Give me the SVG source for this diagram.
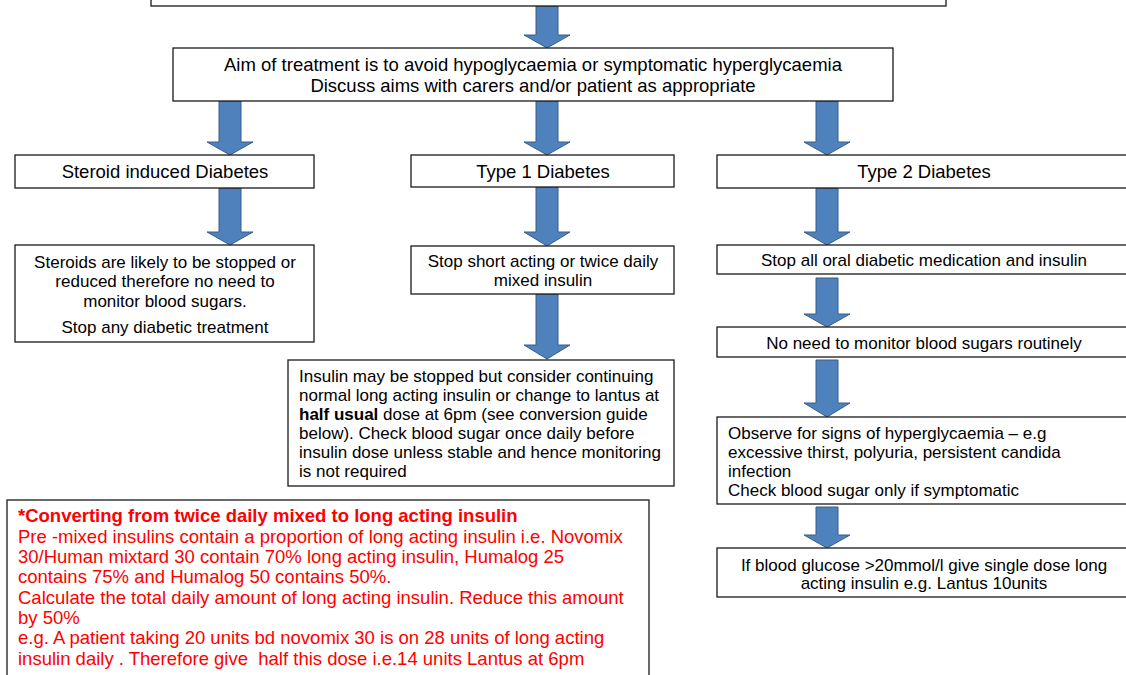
<svg xmlns="http://www.w3.org/2000/svg" width="1126" height="675" viewBox="0 0 1126 675">
  <style>
    .box { fill: #ffffff; stroke: #1a1a1a; stroke-width: 1.3; }
    .arrow { fill: #4F81BD; stroke: #385D8A; stroke-width: 1; }
    .t { font-family: "Liberation Sans", Arial, sans-serif; font-size: 17px; fill: #000; }
    .h { font-family: "Liberation Sans", Arial, sans-serif; font-size: 18.5px; fill: #000; }
    .c { text-anchor: middle; }
    .red { font-family: "Liberation Sans", Arial, sans-serif; font-size: 18.5px; fill: #FF0000; }
  </style>

  <rect width="1126" height="675" fill="#ffffff"/>

  <!-- connectors: downward block arrows -->
  <g id="connectors">
    <polygon class="arrow" points="536,6 558,6 558,35 570,35 547,48 524,35 536,35"/>
    <polygon class="arrow" points="219,101 241,101 241,142 253,142 230,155 207,142 219,142"/>
    <polygon class="arrow" points="536,101 558,101 558,142 570,142 547,155 524,142 536,142"/>
    <polygon class="arrow" points="816,101 838,101 838,142 850,142 827,155 804,142 816,142"/>
    <polygon class="arrow" points="219,188 241,188 241,232 253,232 230,245 207,232 219,232"/>
    <polygon class="arrow" points="536,187 558,187 558,232 570,232 547,246 524,232 536,232"/>
    <polygon class="arrow" points="816,188 838,188 838,232 850,232 827,245 804,232 816,232"/>
    <polygon class="arrow" points="536,294 558,294 558,345 570,345 547,359 524,345 536,345"/>
    <polygon class="arrow" points="816,278 838,278 838,314 850,314 827,327 804,314 816,314"/>
    <polygon class="arrow" points="816,360 838,360 838,403 850,403 827,417 804,403 816,403"/>
    <polygon class="arrow" points="816,507 838,507 838,535 850,535 827,548 804,535 816,535"/>
  </g>

  <g id="top-box">
    <rect class="box" x="151" y="-10" width="795" height="16"/>
  </g>

  <g id="aim">
    <rect class="box" x="173" y="48" width="720" height="53"/>
    <text class="h c" x="533" y="71" font-size="19.2">Aim of treatment is to avoid hypoglycaemia or symptomatic hyperglycaemia</text>
    <text class="h c" x="533" y="92" font-size="19.2">Discuss aims with carers and/or patient as appropriate</text>
  </g>

  <g id="steroid-induced">
    <rect class="box" x="15" y="155" width="299" height="33"/>
    <text class="h c" x="165" y="178">Steroid induced Diabetes</text>
  </g>

  <g id="type1">
    <rect class="box" x="411" y="155" width="263" height="32"/>
    <text class="h c" x="543" y="178">Type 1 Diabetes</text>
  </g>

  <g id="type2">
    <rect class="box" x="717" y="155" width="420" height="33"/>
    <text class="h c" x="924" y="178">Type 2 Diabetes</text>
  </g>

  <g id="steroid-advice">
    <rect class="box" x="15" y="245" width="299" height="97"/>
    <text class="t c" x="165" y="268">Steroids are likely to be stopped or</text>
    <text class="t c" x="165" y="287">reduced therefore no need to</text>
    <text class="t c" x="165" y="307">monitor blood sugars.</text>
    <text class="t c" x="165" y="333">Stop any diabetic treatment</text>
  </g>

  <g id="type1-stop">
    <rect class="box" x="411" y="246" width="263" height="48"/>
    <text class="t c" x="543" y="267">Stop short acting or twice daily</text>
    <text class="t c" x="543" y="286">mixed insulin</text>
  </g>

  <g id="type1-insulin">
    <rect class="box" x="288" y="360" width="386" height="126"/>
    <text class="t" x="299" y="382">Insulin may be stopped but consider continuing</text>
    <text class="t" x="299" y="401">normal long acting insulin or change to lantus at</text>
    <text class="t" x="299" y="420"><tspan font-weight="bold">half usual</tspan> dose at 6pm (see conversion guide</text>
    <text class="t" x="299" y="439">below). Check blood sugar once daily before</text>
    <text class="t" x="299" y="458">insulin dose unless stable and hence monitoring</text>
    <text class="t" x="299" y="477">is not required</text>
  </g>

  <g id="conversion">
    <rect class="box" x="7" y="500" width="642" height="190"/>
    <text class="red" x="18" y="522" font-weight="bold">*Converting from twice daily mixed to long acting insulin</text>
    <text class="red" x="18" y="543">Pre -mixed insulins contain a proportion of long acting insulin i.e. Novomix</text>
    <text class="red" x="18" y="563">30/Human mixtard 30 contain 70% long acting insulin, Humalog 25</text>
    <text class="red" x="18" y="583">contains 75% and Humalog 50 contains 50%.</text>
    <text class="red" x="18" y="604">Calculate the total daily amount of long acting insulin. Reduce this amount</text>
    <text class="red" x="18" y="624">by 50%</text>
    <text class="red" x="18" y="644">e.g. A patient taking 20 units bd novomix 30 is on 28 units of long acting</text>
    <text class="red" x="18" y="665" xml:space="preserve">insulin daily . Therefore give  half this dose i.e.14 units Lantus at 6pm</text>
  </g>

  <g id="type2-stop">
    <rect class="box" x="717" y="245" width="420" height="29"/>
    <text class="t c" x="924" y="266">Stop all oral diabetic medication and insulin</text>
  </g>

  <g id="type2-monitor">
    <rect class="box" x="717" y="327" width="420" height="30"/>
    <text class="t c" x="924" y="349">No need to monitor blood sugars routinely</text>
  </g>

  <g id="type2-observe">
    <rect class="box" x="717" y="417" width="420" height="87"/>
    <text class="t" x="728" y="439">Observe for signs of hyperglycaemia – e.g</text>
    <text class="t" x="728" y="458">excessive thirst, polyuria, persistent candida</text>
    <text class="t" x="728" y="477">infection</text>
    <text class="t" x="728" y="496">Check blood sugar only if symptomatic</text>
  </g>

  <g id="type2-high">
    <rect class="box" x="717" y="548" width="420" height="49"/>
    <text class="t c" x="924" y="571">If blood glucose &gt;20mmol/l give single dose long</text>
    <text class="t c" x="924" y="589">acting insulin e.g. Lantus 10units</text>
  </g>
</svg>
